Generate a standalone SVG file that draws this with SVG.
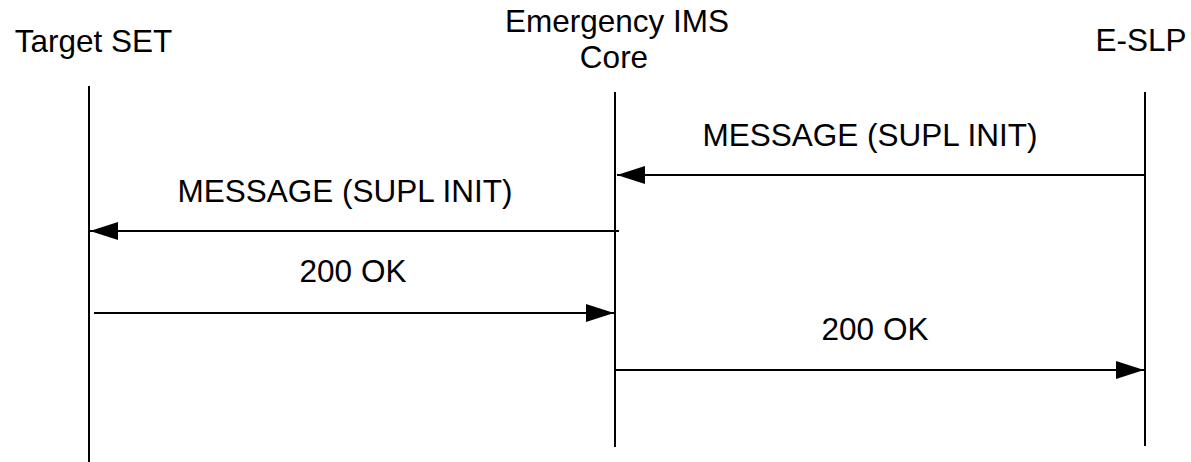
<svg xmlns="http://www.w3.org/2000/svg" width="1191" height="462" viewBox="0 0 1191 462">
<style>
text { font-family: "Liberation Sans", Arial, sans-serif; font-size: 31.5px; fill: #000; text-anchor: middle; }
.life { stroke: #000; stroke-width: 2; fill: none; }
.msg { stroke: #000; stroke-width: 2; fill: none; }
</style>
<defs>
<marker id="ah" viewBox="0 0 28 18" refX="28" refY="9" markerWidth="28" markerHeight="18" markerUnits="userSpaceOnUse" orient="auto">
<path d="M0,0 L28,9 L0,18 Z" fill="#000"/>
</marker>
</defs>
<rect width="1191" height="462" fill="#fff"/>
<g id="node-target-set">
<text x="93.5" y="52">Target SET</text>
<line class="life" x1="89" y1="86" x2="89" y2="462"/>
</g>
<g id="node-emergency-ims-core">
<text x="617" y="32">Emergency IMS</text>
<text x="614" y="68">Core</text>
<line class="life" x1="615" y1="92" x2="615" y2="447"/>
</g>
<g id="node-e-slp">
<text x="1141" y="51">E-SLP</text>
<line class="life" x1="1145" y1="92" x2="1145" y2="446"/>
</g>
<g id="connectors">
<line class="msg" x1="1145" y1="175" x2="617" y2="175" marker-end="url(#ah)"/>
<text x="870" y="146">MESSAGE (SUPL INIT)</text>
<line class="msg" x1="619" y1="231" x2="90" y2="231" marker-end="url(#ah)"/>
<text x="345" y="201.5">MESSAGE (SUPL INIT)</text>
<line class="msg" x1="94" y1="313" x2="614" y2="313" marker-end="url(#ah)"/>
<text x="353" y="281.5">200 OK</text>
<line class="msg" x1="615" y1="370" x2="1144" y2="370" marker-end="url(#ah)"/>
<text x="875" y="340">200 OK</text>
</g>
</svg>
